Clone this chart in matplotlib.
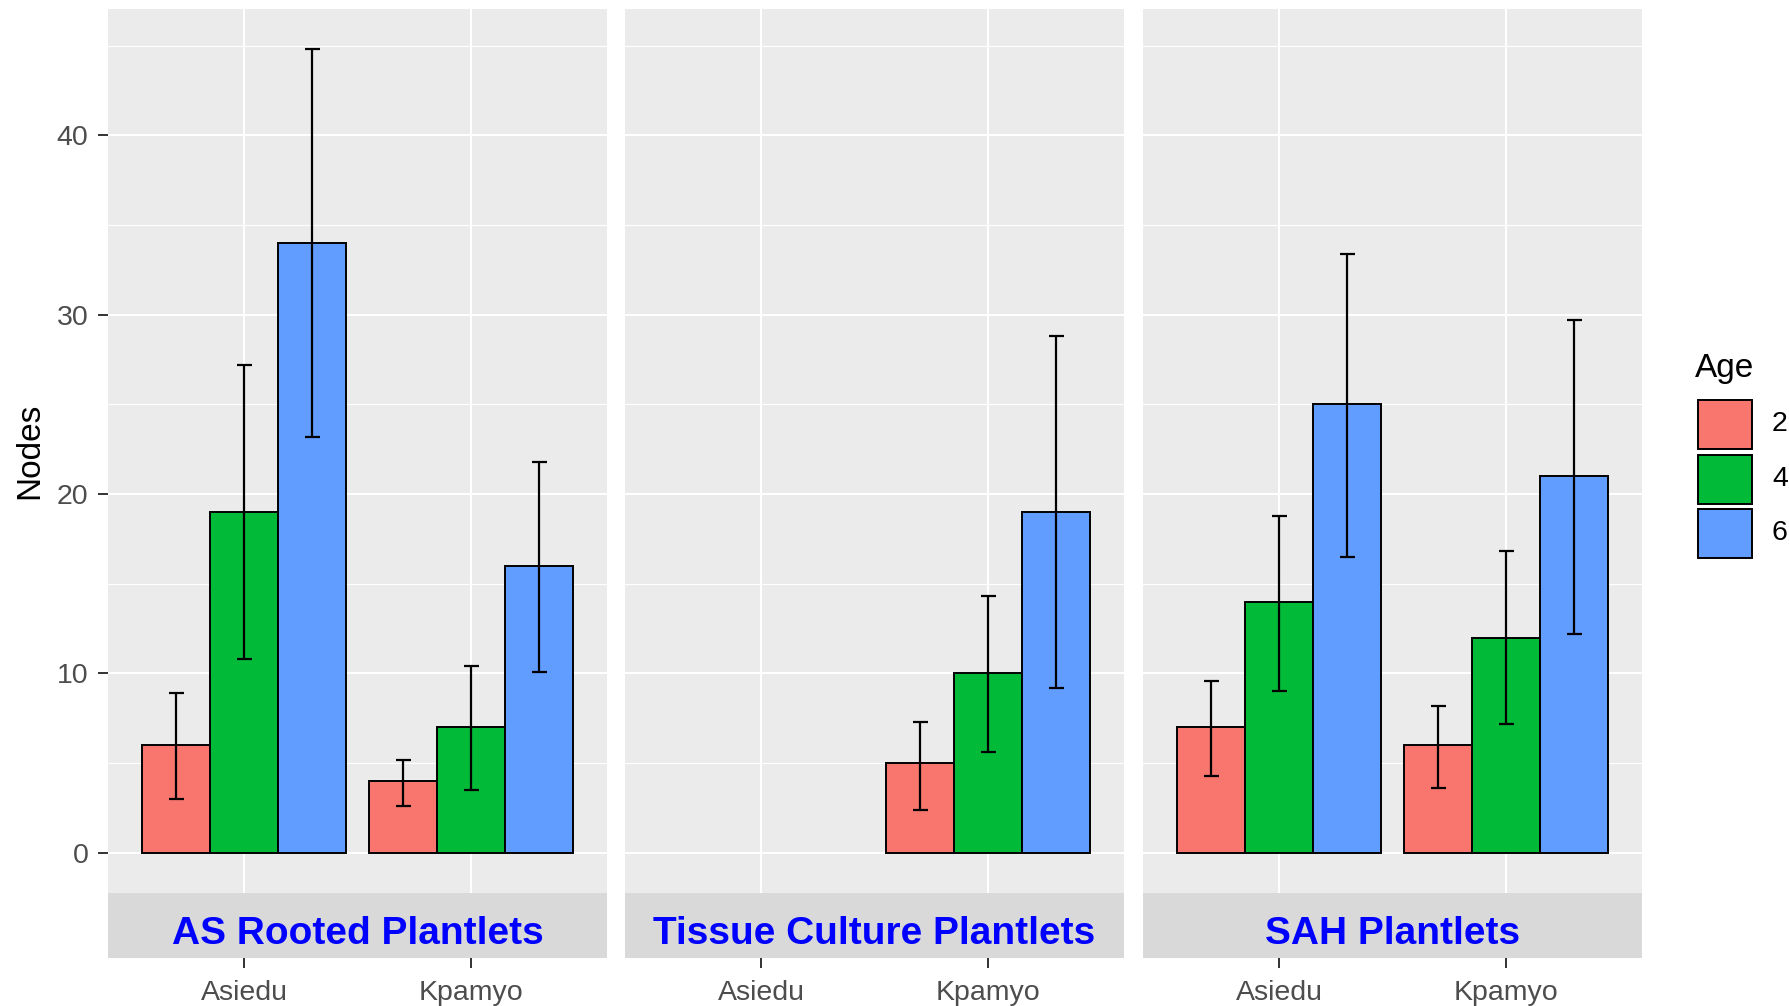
import numpy as np
import matplotlib
matplotlib.use("Agg")
import matplotlib.pyplot as plt
from matplotlib.patches import Rectangle

plt.rcParams['font.family'] = ['Liberation Sans', 'DejaVu Sans']

# data
panels = ['AS Rooted Plantlets', 'Tissue Culture Plantlets', 'SAH Plantlets']
varieties = ['Asiedu', 'Kpamyo']
ages = ['2', '4', '6']
colors = ['#F8766D', '#00BA38', '#619CFF']

# means per panel: rows = variety, cols = age (nan = no data)
means = [
    [[6, 19, 34], [4, 7, 16]],
    [[np.nan, np.nan, np.nan], [5, 10, 19]],
    [[7, 14, 25], [6, 12, 21]],
]
err_lo = [
    [[3.0, 10.8, 23.2], [2.6, 3.5, 10.1]],
    [[np.nan, np.nan, np.nan], [2.4, 5.6, 9.2]],
    [[4.3, 9.0, 16.5], [3.6, 7.2, 12.2]],
]
err_hi = [
    [[8.9, 27.2, 44.8], [5.2, 10.4, 21.8]],
    [[np.nan, np.nan, np.nan], [7.3, 14.3, 28.8]],
    [[9.6, 18.8, 33.4], [8.2, 16.8, 29.7]],
]
yticks = [0, 10, 20, 30, 40]

W, H = 1790, 1006
fig = plt.figure(figsize=(W / 100, H / 100), dpi=100)


def px_axes(x0, y0, x1, y1):
    return fig.add_axes([x0 / W, 1 - y1 / H, (x1 - x0) / W, (y1 - y0) / H])


panel_x = [(108, 607), (625, 1124), (1143, 1642)]
top, bottom, strip_bottom = 9, 893, 958
ylim = (-2.24, 47.04)
xlim = (0.4, 2.6)
tick_col = '#333333'
lab_col = '#4D4D4D'

for p, (x0, x1) in enumerate(panel_x):
    ax = px_axes(x0, top, x1, bottom)
    ax.set_facecolor('#EBEBEB')
    for s in ax.spines.values():
        s.set_visible(False)
    ax.set_xlim(*xlim)
    ax.set_ylim(*ylim)
    ax.set_xticks([1, 2])
    ax.set_yticks(yticks)
    ax.set_yticks([5, 15, 25, 35, 45], minor=True)
    ax.grid(True, which='major', color='white', linewidth=1.5)
    ax.grid(True, which='minor', axis='y', color='white', linewidth=0.8)
    ax.set_axisbelow(True)
    ax.tick_params(axis='x', which='both', bottom=False, labelbottom=False)
    ax.tick_params(axis='y', which='minor', left=False)
    if p == 0:
        ax.tick_params(axis='y', which='major', length=7, width=1.4,
                       color=tick_col, pad=7, labelsize=20.5, labelcolor=lab_col)
    else:
        ax.tick_params(axis='y', which='major', left=False, labelleft=False)

    for v in range(len(varieties)):
        for a in range(len(ages)):
            m = means[p][v][a]
            if np.isnan(m):
                continue
            xc = v + 1 + (a - 1) * 0.3
            ax.bar(xc, m, width=0.3, color=colors[a], edgecolor='black',
                   linewidth=1.4, zorder=2)
            ax.errorbar(xc, m, yerr=[[m - err_lo[p][v][a]], [err_hi[p][v][a] - m]],
                        fmt='none', ecolor='black', elinewidth=1.6,
                        capsize=5.4, capthick=1.6, zorder=3)

    # facet strip at the bottom
    st = px_axes(x0, bottom, x1, strip_bottom)
    st.set_facecolor('#D9D9D9')
    for s in st.spines.values():
        s.set_visible(False)
    st.set_xlim(*xlim)
    st.set_ylim(0, 1)
    st.set_yticks([])
    st.set_xticks([1, 2])
    st.set_xticklabels(varieties)
    st.tick_params(axis='x', length=7, width=1.4, color=tick_col, pad=9,
                   labelsize=20.5, labelcolor=lab_col)
    st.text(1.5, 0.22, panels[p], ha='center', va='baseline', color='#0000FF',
            fontsize=28, fontweight='bold')

fig.text(30 / W, 1 - 451 / H, 'Nodes', rotation=90, ha='center', va='center',
         fontsize=24, color='black')

# legend
fig.text(1695 / W, 1 - 377 / H, 'Age', ha='left', va='baseline', fontsize=24)
key_y = [(400, 449), (455, 504), (509, 558)]
for i, (k0, k1) in enumerate(key_y):
    fig.patches.append(Rectangle((1698 / W, 1 - k1 / H), 54 / W, (k1 - k0) / H,
                                 transform=fig.transFigure, facecolor=colors[i],
                                 edgecolor='black', linewidth=1.4))
    fig.text(1772 / W, 1 - (k0 + k1) / 2 / H, ages[i], ha='left', va='center',
             fontsize=20.5, color='black')

fig.savefig('out.png', dpi=100)
